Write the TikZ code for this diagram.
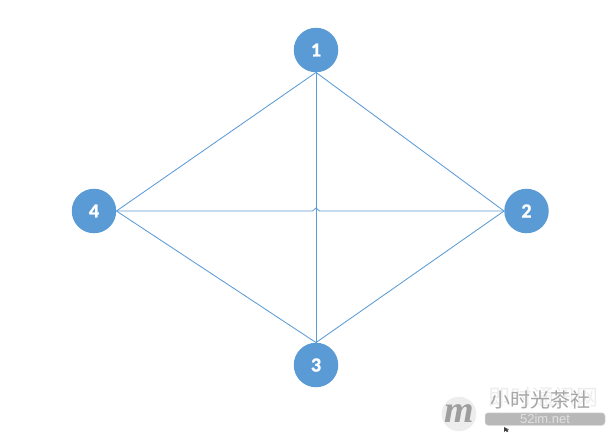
\documentclass[tikz,border=0pt]{standalone}
\usepackage{fontspec}
\setmainfont[BoldFeatures={FakeBold=1.2}]{Carlito}
\newfontfamily\cjk{Noto Sans CJK SC}
\newfontfamily\wmsans{Liberation Sans}
\newfontfamily\wmserif{Liberation Serif}
\definecolor{nodeblue}{HTML}{5B9BD5}
\definecolor{wmgray}{HTML}{B8B8B8}
\tikzset{
  num/.style={circle,fill=nodeblue,text=white,minimum size=44.5pt,inner sep=0pt,font=\fontsize{20}{22}\selectfont\bfseries},
  edge/.style={draw=nodeblue,line width=0.85pt},
  ghost/.style={text=black!7,font=\fontsize{22}{24}\cjk,inner sep=0pt},
  wmtext/.style={text=black!35,font=\fontsize{20}{22}\cjk,inner sep=0pt},
  wmbar/.style={fill=wmgray,draw=black!15,rounded corners=3pt,line width=0.5pt,minimum width=120pt,minimum height=12.5pt,inner sep=0pt,text=black!12,font=\fontsize{13}{14}\wmsans},
  wmdisc/.style={circle,fill=black!7,minimum size=33pt,inner sep=0pt,text=black!38,font=\fontsize{38}{38}\wmserif\itshape\bfseries}
}
\begin{document}
\begin{tikzpicture}[x=1pt,y=-1pt]
\useasboundingbox (0,0) rectangle (611,432);
\node[num] (n1) at (316,50) {1};
\node[num] (n2) at (526.5,211) {2};
\node[num] (n3) at (316,365) {3};
\node[num] (n4) at (94,211) {4};
\coordinate (hopL) at (312.5,211);
\coordinate (hopR) at (319.5,211);
\draw[edge] (n1.south) -- (n2.west);
\draw[edge] (n2.west) -- (n3.north);
\draw[edge] (n3.north) -- (n4.east);
\draw[edge] (n4.east) -- (n1.south);
\draw[edge] (n1.south) -- (n3.north);
\draw[edge] (n4.east) -- (hopL) .. controls (314,211) and (314.5,208) .. (316,208) .. controls (317.5,208) and (318,211) .. (hopR) -- (n2.west);
\node[wmdisc] (wmd) at (459,414) {m};
\node[ghost] (wmg) at (543,397) {即时通讯网};
\node[wmtext] (wmt) at (540,400) {小时光茶社};
\node[wmbar] (wmb) at (545,419) {52im.net};
\fill[black!75] (504,427) -- (504,432) -- (505.5,430.5) -- (507,432) -- (508.5,431) -- (507,429.5) -- (509,429.5) -- cycle;
\end{tikzpicture}
\end{document}
